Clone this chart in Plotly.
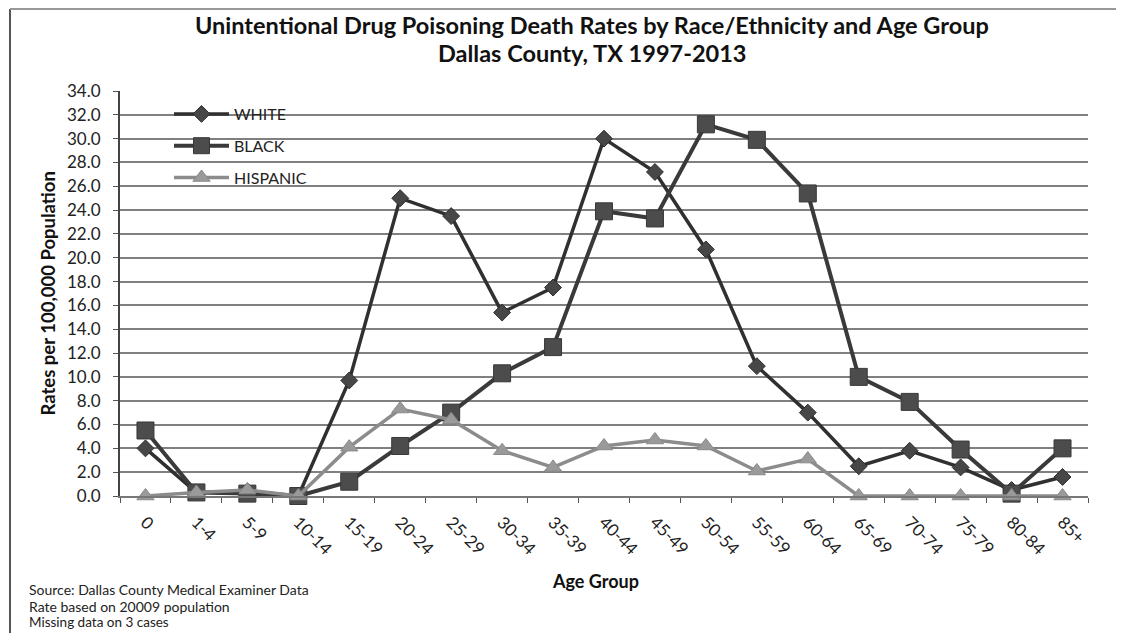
import plotly.graph_objects as go

age_groups = ["0", "1-4", "5-9", "10-14", "15-19", "20-24", "25-29", "30-34", "35-39",
              "40-44", "45-49", "50-54", "55-59", "60-64", "65-69", "70-74", "75-79",
              "80-84", "85+"]
white = [4.0, 0.3, 0.4, 0.0, 9.7, 25.0, 23.5, 15.4, 17.5, 30.0, 27.2, 20.7, 10.9,
         7.0, 2.5, 3.8, 2.4, 0.5, 1.6]
black = [5.5, 0.3, 0.2, 0.0, 1.2, 4.2, 7.0, 10.3, 12.5, 23.9, 23.3, 31.2, 29.9,
         25.4, 10.0, 7.9, 3.9, 0.2, 4.0]
hispanic = [0.0, 0.3, 0.5, 0.0, 4.1, 7.3, 6.4, 3.8, 2.4, 4.2, 4.7, 4.2, 2.1,
            3.1, 0.0, 0.0, 0.0, 0.0, 0.0]
y_ticks = [i * 2 for i in range(18)]

FONT = "Lato, 'Open Sans', sans-serif"

# The page body keeps an 8px margin, so the figure is sized to the visible area
OFF = 8
W, H = 1124 - OFF, 633 - OFF
L, R, T, B = 120 - OFF, 36, 91 - OFF, 633 - 496
pw, ph = W - L - R, H - T - B


def px(x):
    """page x (in window pixels) -> paper coordinate"""
    return (x - OFF - L) / pw


def py(y):
    """page y (in window pixels) -> paper coordinate"""
    return (H - B - (y - OFF)) / ph


fig = go.Figure()
fig.add_trace(go.Scatter(
    x=age_groups, y=white, name="WHITE", mode="lines+markers", legendgroup="w",
    line=dict(color="#303030", width=3.5),
    marker=dict(symbol="diamond", size=13, color="#474747", line=dict(color="#2e2e2e", width=1)),
    cliponaxis=False))
fig.add_trace(go.Scatter(
    x=age_groups, y=black, name="BLACK", mode="lines+markers", legendgroup="b",
    line=dict(color="#3a3a3a", width=4),
    marker=dict(symbol="square", size=17, color="#4c4c4c", line=dict(color="#383838", width=1)),
    cliponaxis=False))
fig.add_trace(go.Scatter(
    x=age_groups, y=hispanic, name="HISPANIC", mode="lines+markers", legendgroup="h",
    line=dict(color="#8c8c8c", width=3.5),
    marker=dict(symbol="triangle-up", size=15, color="#9a9a9a", line=dict(color="#8a8a8a", width=1)),
    cliponaxis=False))

annotations = [
    dict(text="<b>Unintentional Drug Poisoning Death Rates by Race/Ethnicity and Age Group</b>",
         x=px(592), y=py(25), font=dict(size=23.5, color="#111111")),
    dict(text="<b>Dallas County, TX 1997-2013</b>",
         x=px(592), y=py(53), font=dict(size=23.5, color="#111111")),
    dict(text="<b>Age Group</b>", x=px(595), y=py(581), font=dict(size=18, color="#111111")),
    dict(text="<b>Rates per 100,000 Population</b>", x=px(47), y=0.5, textangle=-90,
         font=dict(size=18.5, color="#111111")),
    dict(text="Source: Dallas County Medical Examiner Data", x=px(27), y=py(589),
         xanchor="left", font=dict(size=14, color="#222222")),
    dict(text="Rate based on 20009 population", x=px(27), y=py(606),
         xanchor="left", font=dict(size=14, color="#222222")),
    dict(text="Missing data on 3 cases", x=px(27), y=py(622),
         xanchor="left", font=dict(size=13.5, color="#222222")),
]
for a in annotations:
    a.setdefault("xanchor", "center")
    a.update(xref="paper", yref="paper", yanchor="middle", showarrow=False)

shapes = [
    dict(type="line", xref="paper", yref="paper", x0=px(10), x1=px(10), y0=py(9), y1=py(640),
         line=dict(color="#555555", width=2)),
    dict(type="line", xref="paper", yref="paper", x0=px(10), x1=px(1124), y0=py(9), y1=py(9),
         line=dict(color="#999999", width=2)),
]

fig.update_layout(
    width=W, height=H,
    margin=dict(l=L, r=R, t=T, b=B, autoexpand=False),
    paper_bgcolor="white", plot_bgcolor="white",
    font=dict(family=FONT, color="#111111"),
    showlegend=True,
    legend=dict(x=px(169), y=py(97), xanchor="left", yanchor="top",
                bgcolor="rgba(0,0,0,0)", font=dict(size=16, color="#222222"),
                traceorder="grouped", tracegroupgap=8, itemwidth=55),
    annotations=annotations,
    shapes=shapes,
    xaxis=dict(type="category", range=[-0.5, 18.5], tickson="boundaries",
               ticks="outside", ticklen=5, tickcolor="#555555",
               showline=True, linecolor="#777777", linewidth=1.5,
               tickangle=45, tickfont=dict(size=17, color="#222222"),
               ticklabelstandoff=8, showgrid=False),
    yaxis=dict(range=[0, 34], tickvals=y_ticks, tickformat=".1f",
               ticks="outside", ticklen=5, tickcolor="#555555",
               showline=True, linecolor="#444444", linewidth=2,
               gridcolor="#808080", gridwidth=1.5, zeroline=False,
               ticklabelstandoff=9,
               tickfont=dict(size=17, color="#222222")),
)

fig.write_html("out.html")
